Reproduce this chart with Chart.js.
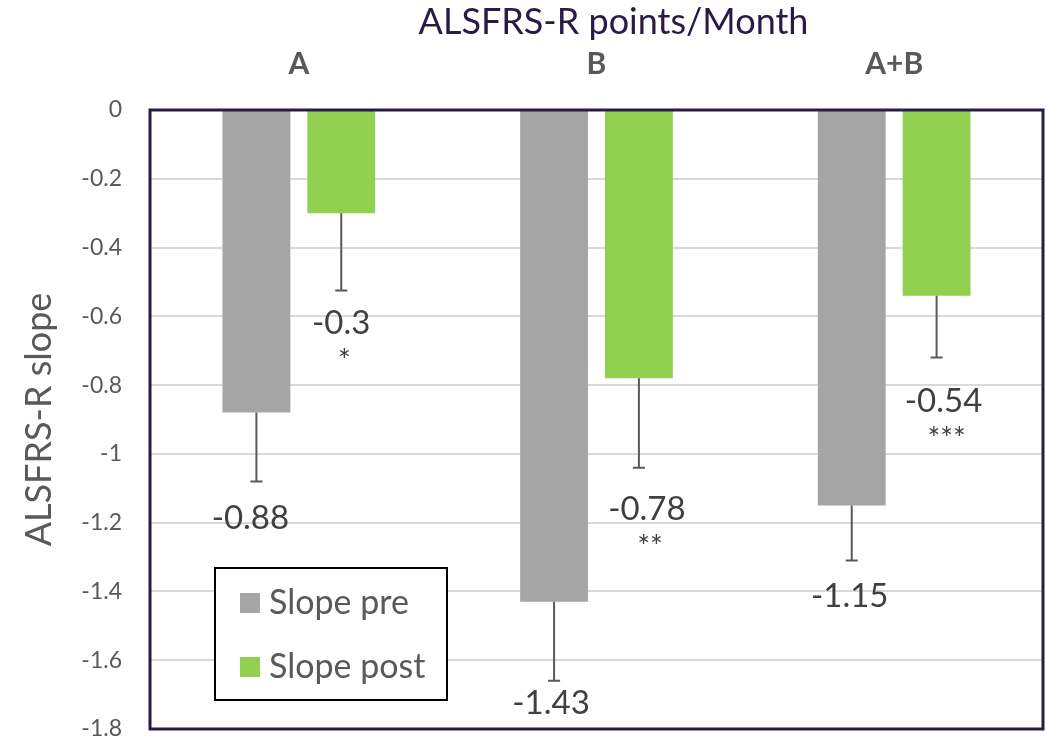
<!DOCTYPE html>
<html>
<head>
<meta charset="utf-8">
<script src="https://cdn.jsdelivr.net/npm/chart.js@4.4.0/dist/chart.umd.min.js"></script>
<style>
  body { margin: 0; background: #fff; }
  canvas { display: block; }
</style>
</head>
<body>
<canvas id="slopeChart" width="1046" height="739"></canvas>
<script>
// --- data ---
const chartTitle = 'ALSFRS-R points/Month';
const groups = ['A', 'B', 'A+B'];
const slopePre = [-0.88, -1.43, -1.15];
const slopePost = [-0.3, -0.78, -0.54];
const errPre = [0.2, 0.23, 0.16];
const errPost = [0.225, 0.26, 0.18];
const starsPost = ['*', '**', '***'];
const yTicks = [0, -0.2, -0.4, -0.6, -0.8, -1, -1.2, -1.4, -1.6, -1.8];

const textGray = '#595959';
const purple = '#2b1a45';
const font = 'Lato, "Open Sans", sans-serif';

// error bars + value labels under each bar
const errorBarPlugin = {
  id: 'errorBars',
  afterDatasetsDraw(chart, args, opts) {
    const ctx = chart.ctx;
    const yScale = chart.scales.y;
    chart.data.datasets.forEach((ds, i) => {
      const meta = chart.getDatasetMeta(i);
      meta.data.forEach((bar, j) => {
        const val = ds.data[j];
        const yEnd = yScale.getPixelForValue(val - ds.errors[j]);
        ctx.save();
        ctx.strokeStyle = textGray;
        ctx.lineWidth = 2;
        ctx.beginPath();
        ctx.moveTo(bar.x, bar.y);
        ctx.lineTo(bar.x, yEnd);
        ctx.moveTo(bar.x - 6, yEnd);
        ctx.lineTo(bar.x + 6, yEnd);
        ctx.stroke();

        // value label (nudged like the hand-placed labels of the original)
        const lx = bar.x + opts.dx[i][j];
        const ly = yEnd + opts.dy[i][j];
        ctx.fillStyle = '#404040';
        ctx.font = '33px ' + font;
        ctx.textAlign = 'center';
        ctx.textBaseline = 'middle';
        ctx.fillText(String(val), lx, ly);
        if (ds.stars) {
          ctx.font = '30px ' + font;
          ctx.fillText(ds.stars[j], lx + 3, ly + 38);
        }
        ctx.restore();
      });
    });
  }
};

// title, frame around the plot area and the boxed legend
const framePlugin = {
  id: 'frame',
  afterDraw(chart) {
    const { ctx, chartArea } = chart;
    ctx.save();
    ctx.fillStyle = purple;
    ctx.font = '36px ' + font;
    ctx.textAlign = 'center';
    ctx.textBaseline = 'middle';
    ctx.fillText(chartTitle, (chartArea.left + chartArea.right) / 2 + 17, 22);

    ctx.strokeStyle = purple;
    ctx.lineWidth = 3;
    ctx.strokeRect(chartArea.left, chartArea.top, chartArea.right - chartArea.left, chartArea.bottom - chartArea.top);

    // legend box
    const lx = chartArea.left + 65;
    const ly = 568;
    ctx.fillStyle = '#fff';
    ctx.fillRect(lx, ly, 232, 132);
    ctx.strokeStyle = '#000';
    ctx.lineWidth = 2;
    ctx.strokeRect(lx, ly, 232, 132);
    chart.data.datasets.forEach((ds, i) => {
      const cy = ly + 35 + i * 64;
      ctx.fillStyle = ds.backgroundColor;
      ctx.fillRect(lx + 25, cy - 10, 20, 20);
      ctx.fillStyle = textGray;
      ctx.font = '34px ' + font;
      ctx.textAlign = 'left';
      ctx.textBaseline = 'middle';
      ctx.fillText(ds.label, lx + 54, cy);
    });
    ctx.restore();
  }
};

const ctx = document.getElementById('slopeChart').getContext('2d');
new Chart(ctx, {
  type: 'bar',
  data: {
    labels: groups,
    datasets: [
      {
        label: 'Slope pre',
        data: slopePre,
        errors: errPre,
        backgroundColor: '#a5a5a5',
        categoryPercentage: 0.57,
        barPercentage: 0.8
      },
      {
        label: 'Slope post',
        data: slopePost,
        errors: errPost,
        stars: starsPost,
        backgroundColor: '#92d050',
        categoryPercentage: 0.57,
        barPercentage: 0.8
      }
    ]
  },
  options: {
    responsive: false,
    animation: false,
    layout: { padding: { left: 18, right: 3, top: 45, bottom: 0 } },
    plugins: {
      legend: { display: false },
      tooltip: { enabled: false },
      errorBars: {
        dx: [[-6, -3, -2], [0, 8, 7]],
        dy: [[37, 23, 36], [33, 42, 44]]
      }
    },
    scales: {
      x: {
        position: 'top',
        grid: { display: false, drawTicks: false },
        border: { display: false },
        ticks: {
          color: textGray,
          font: { family: font, size: 30, weight: 'bold' },
          padding: 28
        },
        afterFit: (axis) => { axis.height = 65; }
      },
      y: {
        min: -1.8,
        max: 0,
        afterBuildTicks: (axis) => {
          axis.ticks = yTicks.map(v => ({ value: v }));
        },
        afterFit: (axis) => {
          axis.width = 132;
          axis.paddingBottom = 10;
        },
        grid: { color: '#d9d9d9', lineWidth: 2, drawTicks: false },
        border: { display: false },
        ticks: {
          color: textGray,
          font: { family: font, size: 23 },
          padding: 28,
          callback: (v) => String(+v.toFixed(1))
        },
        title: {
          display: true,
          text: 'ALSFRS-R slope',
          color: textGray,
          font: { family: font, size: 36 },
          padding: { top: 0, bottom: 4 }
        }
      }
    }
  },
  plugins: [errorBarPlugin, framePlugin]
});
</script>
</body>
</html>
